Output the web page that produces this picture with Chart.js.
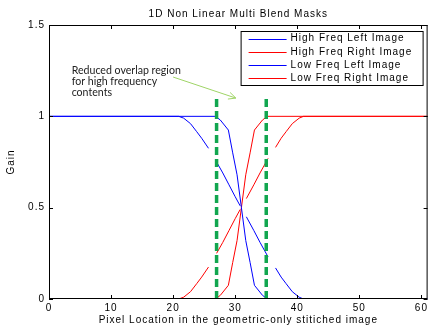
<!DOCTYPE html>
<html>
<head>
<meta charset="utf-8">
<script src="https://cdn.jsdelivr.net/npm/chart.js@4.4.1/dist/chart.umd.min.js"></script>
<style>
  html, body { margin: 0; padding: 0; background: #fff; }
  #wrap { width: 430px; height: 327px; }
</style>
</head>
<body>
<div id="wrap"><canvas id="grafico"></canvas></div>
<script>
// Datos
const hfX = [0, 26.8, 27.6, 28.9, 29.6, 30.3, 31, 31.7, 32.4, 33.1, 34.4, 35.2, 61];
const hfLeft = [1, 1, 0.98, 0.925, 0.8, 0.68, 0.5, 0.32, 0.2, 0.075, 0.02, 0, 0];
const hfRight = [0, 0, 0.02, 0.075, 0.2, 0.32, 0.5, 0.68, 0.8, 0.925, 0.98, 1, 1];

const lfX = [0, 20.9, 21.7, 22.8, 23.8, 24.6, 25.7, 26.3, 27, 28, 29, 30, 30.8, 31.3, 31.8, 33, 34, 35.3, 36, 36.5, 37.4, 38.2, 39.2, 40.3, 41, 61];
const lfLeft = [1, 1, 0.99, 0.96, 0.916, 0.88, 0.825, null, 0.75, 0.69, 0.625, 0.56, 0.51, null, 0.45, 0.375, 0.31, 0.23, null, 0.17, 0.12, 0.084, 0.04, 0.01, 0, 0];
const lfRight = [0, 0, 0.01, 0.04, 0.084, 0.12, 0.175, null, 0.25, 0.31, 0.375, 0.44, 0.49, null, 0.55, 0.625, 0.69, 0.77, null, 0.83, 0.88, 0.916, 0.96, 0.99, 1, 1];

const seriesNames = ['High Freq Left Image', 'High Freq Right Image', 'Low Freq Left Image', 'Low Freq Right Image'];
const seriesColors = ['#0000ff', '#ff0000', '#0000ff', '#ff0000'];

const overlapX = [27, 35];
const overlapY = [0, 1.1];

const xTicks = [0, 10, 20, 30, 40, 50, 60];
const yTicks = [0, 0.5, 1, 1.5];

const notaLineas = ['Reduced overlap region', 'for high frequency', 'contents'];

const fuente = "'Liberation Sans', Arial, Helvetica, sans-serif";
const colorTexto = '#000';

function puntos(xs, ys) {
  return xs.map((x, i) => ({ x: x, y: ys[i] }));
}

const curvas = [
  puntos(hfX, hfLeft), puntos(hfX, hfRight), puntos(lfX, lfLeft), puntos(lfX, lfRight)
];

const datasets = curvas.map((d, i) => ({
  label: seriesNames[i],
  data: d,
  borderColor: seriesColors[i],
  borderWidth: 1,
  pointRadius: 0,
  tension: 0,
  spanGaps: false,
  order: 2
}));

overlapX.forEach(x => {
  datasets.push({
    label: 'overlap',
    data: overlapY.map(y => ({ x: x, y: y })),
    borderColor: '#11a64f',
    borderWidth: 3.5,
    borderDash: [8, 4],
    pointRadius: 0,
    order: 1
  });
});

// Plugin para caja, marcas internas, leyenda y anotación
const extras = {
  id: 'extras',
  beforeDraw(chart) {
    chart.ctx.letterSpacing = '1px';
  },
  afterDraw(chart) {
    const ctx = chart.ctx;
    const a = chart.chartArea;
    const xs = chart.scales.x, ys = chart.scales.y;
    ctx.save();
    ctx.strokeStyle = '#000';
    ctx.lineWidth = 1;
    ctx.strokeRect(a.left + 0.5, a.top + 0.5, a.right - a.left - 1, a.bottom - a.top - 1);
    ctx.beginPath();
    xTicks.forEach(v => {
      const px = Math.round(xs.getPixelForValue(v)) + 0.5;
      ctx.moveTo(px, a.bottom); ctx.lineTo(px, a.bottom - 4);
      ctx.moveTo(px, a.top); ctx.lineTo(px, a.top + 4);
    });
    yTicks.forEach(v => {
      const py = Math.round(ys.getPixelForValue(v)) + 0.5;
      ctx.moveTo(a.left, py); ctx.lineTo(a.left + 4, py);
      ctx.moveTo(a.right, py); ctx.lineTo(a.right - 4, py);
    });
    ctx.stroke();

    // leyenda
    const lw = 182, lh = 54;
    const lx = a.right - 5 - lw, ly = a.top + 6;
    ctx.fillStyle = '#fff';
    ctx.fillRect(lx, ly, lw, lh);
    ctx.strokeStyle = '#000';
    ctx.strokeRect(lx + 0.5, ly + 0.5, lw, lh);
    ctx.font = '10px ' + fuente;
    ctx.letterSpacing = '1px';
    ctx.textBaseline = 'middle';
    ctx.textAlign = 'left';
    seriesNames.forEach((n, i) => {
      const yy = ly + 7.5 + i * 13.3;
      ctx.strokeStyle = seriesColors[i];
      ctx.beginPath();
      ctx.moveTo(lx + 8, Math.round(yy) + 0.5);
      ctx.lineTo(lx + 46, Math.round(yy) + 0.5);
      ctx.stroke();
      ctx.fillStyle = colorTexto;
      ctx.fillText(n, lx + 50, yy);
    });

    // anotación
    const x0 = xs.getPixelForValue(20), y0 = ys.getPixelForValue(1.215);
    const x1 = xs.getPixelForValue(30.1), y1 = ys.getPixelForValue(1.1);
    ctx.strokeStyle = '#9fd466';
    ctx.lineWidth = 1;
    ctx.beginPath();
    ctx.moveTo(x0, y0); ctx.lineTo(x1, y1);
    const ang = Math.atan2(y1 - y0, x1 - x0);
    ctx.moveTo(x1 - 8 * Math.cos(ang - 0.45), y1 - 8 * Math.sin(ang - 0.45));
    ctx.lineTo(x1, y1);
    ctx.lineTo(x1 - 8 * Math.cos(ang + 0.45), y1 - 8 * Math.sin(ang + 0.45));
    ctx.stroke();

    ctx.font = "10.6px Lato, 'Open Sans', sans-serif";
    ctx.letterSpacing = '0px';
    ctx.fillStyle = '#222';
    notaLineas.forEach((t, i) => {
      ctx.fillText(t, xs.getPixelForValue(3.65), ys.getPixelForValue(1.253) + i * 11.3);
    });
    ctx.restore();
  }
};

const ctx = document.getElementById('grafico').getContext('2d');
window.myChart = new Chart(ctx, {
  type: 'line',
  data: { datasets: datasets },
  plugins: [extras],
  options: {
    responsive: true,
    maintainAspectRatio: false,
    animation: false,
    layout: { padding: { left: 0, right: 1, top: 0, bottom: 0 } },
    plugins: {
      legend: { display: false },
      tooltip: { enabled: false },
      title: {
        display: true,
        fullSize: false,
        text: '1D Non Linear Multi Blend Masks',
        color: colorTexto,
        font: { family: fuente, size: 10, weight: 'normal' },
        padding: { top: 8, bottom: 5 }
      }
    },
    scales: {
      x: {
        type: 'linear',
        min: 0,
        max: 61,
        afterBuildTicks: s => { s.ticks = xTicks.map(v => ({ value: v })); },
        afterFit: s => { s.height = 28; },
        grid: { display: false, drawTicks: false },
        border: { display: false },
        ticks: { padding: 3, color: colorTexto, font: { family: fuente, size: 10 }, maxRotation: 0 },
        title: {
          display: true,
          text: 'Pixel Location in the geometric-only stitiched image',
          color: colorTexto,
          font: { family: fuente, size: 10 },
          padding: { top: 0, bottom: 1 }
        }
      },
      y: {
        min: 0,
        max: 1.5,
        afterBuildTicks: s => { s.ticks = yTicks.map(v => ({ value: v })); },
        afterFit: s => { s.width = 49; },
        grid: { display: false, drawTicks: false },
        border: { display: false },
        ticks: { padding: 4, color: colorTexto, font: { family: fuente, size: 10 }, callback: v => String(v) },
        title: {
          display: true,
          text: 'Gain',
          color: colorTexto,
          font: { family: fuente, size: 10 },
          padding: { top: 5, bottom: 0 }
        }
      }
    }
  }
});
</script>
</body>
</html>
